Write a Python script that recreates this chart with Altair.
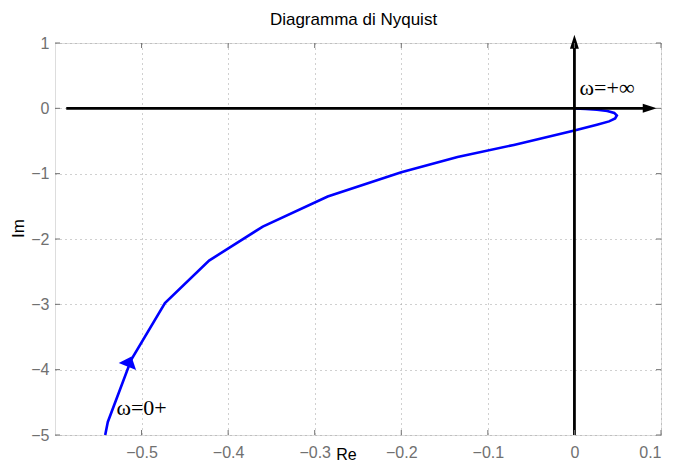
import altair as alt
import pandas as pd

# Nyquist curve, from omega = 0+ (bottom) to omega = +inf (origin)
re_vals = [-0.542, -0.539, -0.512, -0.473, -0.422, -0.360, -0.285, -0.200, -0.135,
           -0.070, 0.000, 0.026, 0.040, 0.047, 0.049, 0.046, 0.038, 0.026, 0.013, 0.000]
im_vals = [-5.00, -4.80, -3.85, -2.98, -2.33, -1.81, -1.35, -0.98, -0.745,
           -0.56, -0.34, -0.25, -0.20, -0.155, -0.11, -0.07, -0.042, -0.022, -0.008, 0.0]

x_ticks = [-0.5, -0.4, -0.3, -0.2, -0.1, 0.0, 0.1]
y_ticks = [-5, -4, -3, -2, -1, 0, 1]
x_domain = [-0.6, 0.1]
y_domain = [-5, 1]

# black coordinate axes (Re axis and Im axis)
re_axis_x = [-0.587, 0.085]
re_axis_y = [0.0, 0.0]
im_axis_x = [0.0, 0.0]
im_axis_y = [-5.0, 1.0]

# arrow heads: x, y, rotation
head_x = [0.087, 0.0]
head_y = [0.0, 1.02]
head_rot = [90, 0]
curve_head_x = [-0.514]
curve_head_y = [-3.875]

label_text = ["ω=+∞", "ω=0+"]
label_x = [0.006, -0.529]
label_y = [0.21, -4.70]

title_text = ["Diagramma di Nyquist"]

W, H = 606, 392
GREY = "#707070"

xs = alt.Scale(domain=x_domain, nice=False, zero=False)
ys = alt.Scale(domain=y_domain, nice=False, zero=False)

x_axis = alt.Axis(values=x_ticks, format="~g", grid=True, gridDash=[1, 4],
                  gridColor="#a0a0a0", gridWidth=1, domain=False, ticks=False,
                  labelFontSize=16, labelColor=GREY, labelFont="Liberation Sans",
                  labelPadding=9, labelFlush=True, title="Re", titleFontSize=16,
                  titleFont="Liberation Sans", titleFontWeight="normal", titleColor="black",
                  titleX=291, titleY=24, titleBaseline="alphabetic", titleAlign="center")
y_axis = alt.Axis(values=y_ticks, format="d", grid=True, gridDash=[1, 4],
                  gridColor="#a0a0a0", gridWidth=1, domain=False, ticks=False,
                  labelFontSize=16, labelColor=GREY, labelFont="Liberation Sans",
                  labelPadding=6, labelFlush=False, title="Im", titleFontSize=17,
                  titleFont="Liberation Sans", titleFontWeight="normal", titleColor="black",
                  titleX=-37, titleY=185, titleAngle=270, titleBaseline="middle",
                  titleAlign="center")

curve_df = pd.DataFrame({"re": re_vals, "im": im_vals, "k": list(range(len(re_vals)))})

curve = alt.Chart(curve_df).mark_line(color="#0000ff", strokeWidth=2.6, clip=True).encode(
    x=alt.X("re:Q", scale=xs, axis=x_axis),
    y=alt.Y("im:Q", scale=ys, axis=y_axis),
    order="k:Q",
)

re_ax = alt.Chart(pd.DataFrame({"re": re_axis_x, "im": re_axis_y})).mark_line(
    color="black", strokeWidth=2.8).encode(
    x=alt.X("re:Q", scale=xs, axis=x_axis), y=alt.Y("im:Q", scale=ys, axis=y_axis))
im_ax = alt.Chart(pd.DataFrame({"re": im_axis_x, "im": im_axis_y})).mark_line(
    color="black", strokeWidth=2.8).encode(
    x=alt.X("re:Q", scale=xs, axis=x_axis), y=alt.Y("im:Q", scale=ys, axis=y_axis))

head_shape = "M0,-1L0.64,1L-0.64,1Z"
heads = alt.Chart(pd.DataFrame({"re": head_x, "im": head_y, "rot": head_rot})).mark_point(
    shape=head_shape, size=196, filled=True, fill="black", strokeWidth=0, opacity=1,
    clip=False).encode(
    x=alt.X("re:Q", scale=xs, axis=x_axis), y=alt.Y("im:Q", scale=ys, axis=y_axis),
    angle=alt.Angle("rot:Q", scale=None))

curve_head = alt.Chart(pd.DataFrame({"re": curve_head_x, "im": curve_head_y})).mark_point(
    shape="M0,-1L1.7,1L-1.7,1Z", size=121, filled=True, fill="#0000ff", strokeWidth=0,
    opacity=1, angle=22).encode(
    x=alt.X("re:Q", scale=xs, axis=x_axis), y=alt.Y("im:Q", scale=ys, axis=y_axis))

labels = alt.Chart(pd.DataFrame({"re": label_x, "im": label_y, "t": label_text})).mark_text(
    font="Liberation Serif", fontSize=22, color="black", align="left",
    baseline="alphabetic").encode(
    x=alt.X("re:Q", scale=xs, axis=x_axis), y=alt.Y("im:Q", scale=ys, axis=y_axis),
    text="t:N")

title = alt.Chart(pd.DataFrame({"t": title_text})).mark_text(
    font="Liberation Sans", fontSize=17, color="black", align="center",
    baseline="alphabetic").encode(
    x=alt.value(298.5), y=alt.value(-18), text="t:N")

# inward MATLAB-style tick marks on all four sides
xt = pd.DataFrame({"re": x_ticks})
yt = pd.DataFrame({"im": y_ticks})
tick_style = dict(color=GREY, strokeWidth=1)
tb = alt.Chart(xt).mark_rule(**tick_style).encode(
    x=alt.X("re:Q", scale=xs, axis=x_axis), y=alt.value(H), y2=alt.value(H - 5))
tt = alt.Chart(xt).mark_rule(**tick_style).encode(
    x=alt.X("re:Q", scale=xs, axis=x_axis), y=alt.value(0), y2=alt.value(5))
tl = alt.Chart(yt).mark_rule(**tick_style).encode(
    y=alt.Y("im:Q", scale=ys, axis=y_axis), x=alt.value(0), x2=alt.value(5))
tr = alt.Chart(yt).mark_rule(**tick_style).encode(
    y=alt.Y("im:Q", scale=ys, axis=y_axis), x=alt.value(W), x2=alt.value(W - 5))

chart = alt.layer(curve, re_ax, im_ax, heads, curve_head, labels, title,
                  tb, tt, tl, tr).properties(
    width=W, height=H,
    autosize=alt.AutoSizeParams(type="none"),
    padding={"left": 47, "top": 35, "right": 4, "bottom": 29},
).configure_view(stroke="#808080", strokeWidth=1).configure(background="white")

chart.save("out.html", embed_options={"renderer": "svg", "actions": False})
